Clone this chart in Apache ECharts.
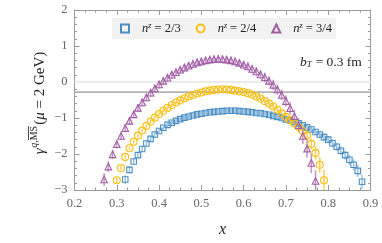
<!DOCTYPE html>
<html><head><meta charset="utf-8">
<script src="https://cdn.jsdelivr.net/npm/echarts@6/dist/echarts.min.js"></script>
<style>html,body{margin:0;padding:0;background:#fff}#c{width:382px;height:243px}</style>
</head><body><div id="c"></div>
<script>
// ---------- data ----------
const xTickLabels = ['0.2','0.3','0.4','0.5','0.6','0.7','0.8','0.9'];
const yTickLabels = ['−3','−2','−1','0','1','2'];

const blueX = [0.32,0.33,0.34,0.35,0.36,0.37,0.38,0.39,0.40,0.41,0.42,0.43,0.44,0.45,0.46,0.47,0.48,0.49,0.50,0.51,0.52,0.53,0.54,0.55,0.56,0.57,0.58,0.59,0.60,0.61,0.62,0.63,0.64,0.65,0.66,0.67,0.68,0.69,0.70,0.71,0.72,0.73,0.74,0.75,0.76,0.77,0.78,0.79,0.80,0.81,0.82,0.83,0.84,0.85,0.86,0.87,0.88];
const blueY = [-2.71,-2.44,-2.21,-2.03,-1.86,-1.71,-1.58,-1.46,-1.36,-1.27,-1.19,-1.13,-1.08,-1.03,-0.99,-0.96,-0.93,-0.90,-0.88,-0.86,-0.84,-0.83,-0.82,-0.81,-0.80,-0.80,-0.80,-0.81,-0.82,-0.83,-0.84,-0.86,-0.87,-0.89,-0.91,-0.94,-0.97,-1.00,-1.04,-1.07,-1.11,-1.15,-1.20,-1.26,-1.32,-1.39,-1.46,-1.53,-1.60,-1.70,-1.80,-1.91,-2.03,-2.16,-2.30,-2.47,-2.77];
const blueErr = [0.12,0.10,0.09,0.08,0.08,0.07,0.07,0.07,0.06,0.06,0.06,0.06,0.06,0.06,0.06,0.06,0.06,0.06,0.06,0.06,0.06,0.06,0.06,0.06,0.06,0.06,0.06,0.06,0.06,0.06,0.06,0.06,0.06,0.06,0.06,0.06,0.06,0.07,0.07,0.07,0.07,0.08,0.08,0.08,0.09,0.09,0.10,0.10,0.10,0.11,0.11,0.12,0.12,0.14,0.15,0.17,0.20];

const orangeX = [0.30,0.31,0.32,0.33,0.34,0.35,0.36,0.37,0.38,0.39,0.40,0.41,0.42,0.43,0.44,0.45,0.46,0.47,0.48,0.49,0.50,0.51,0.52,0.53,0.54,0.55,0.56,0.57,0.58,0.59,0.60,0.61,0.62,0.63,0.64,0.65,0.66,0.67,0.68,0.69,0.70,0.71,0.72,0.73,0.74,0.75,0.76,0.77,0.78,0.79];
const orangeY = [-2.73,-2.39,-2.08,-1.84,-1.66,-1.49,-1.35,-1.22,-1.10,-0.99,-0.89,-0.80,-0.72,-0.64,-0.57,-0.51,-0.45,-0.40,-0.36,-0.32,-0.29,-0.26,-0.24,-0.22,-0.21,-0.20,-0.21,-0.22,-0.24,-0.26,-0.28,-0.31,-0.35,-0.40,-0.46,-0.53,-0.60,-0.68,-0.77,-0.87,-0.97,-1.06,-1.15,-1.25,-1.36,-1.48,-1.72,-1.97,-2.30,-2.73];
const orangeErr = [0.08,0.07,0.06,0.05,0.05,0.05,0.05,0.05,0.05,0.05,0.05,0.05,0.05,0.05,0.05,0.05,0.05,0.05,0.05,0.05,0.05,0.05,0.05,0.05,0.05,0.05,0.05,0.05,0.05,0.05,0.05,0.05,0.05,0.06,0.06,0.06,0.07,0.07,0.07,0.08,0.08,0.09,0.09,0.10,0.11,0.13,0.15,0.18,0.22,0.30];

const purpleX = [0.27,0.28,0.29,0.30,0.31,0.32,0.33,0.34,0.35,0.36,0.37,0.38,0.39,0.40,0.41,0.42,0.43,0.44,0.45,0.46,0.47,0.48,0.49,0.50,0.51,0.52,0.53,0.54,0.55,0.56,0.57,0.58,0.59,0.60,0.61,0.62,0.63,0.64,0.65,0.66,0.67,0.68,0.69,0.70,0.71,0.72,0.73,0.74,0.75,0.76,0.77];
const purpleY = [-2.71,-2.35,-2.01,-1.73,-1.50,-1.28,-1.08,-0.90,-0.72,-0.57,-0.43,-0.30,-0.18,-0.07,0.03,0.12,0.20,0.27,0.34,0.40,0.45,0.50,0.54,0.57,0.60,0.62,0.63,0.64,0.63,0.62,0.60,0.57,0.53,0.48,0.43,0.36,0.29,0.21,0.13,0.03,-0.08,-0.21,-0.36,-0.53,-0.73,-0.95,-1.20,-1.50,-1.85,-2.25,-2.75];
const purpleErr = [0.18,0.15,0.13,0.12,0.12,0.11,0.11,0.11,0.11,0.11,0.11,0.11,0.11,0.11,0.11,0.11,0.11,0.11,0.11,0.11,0.11,0.11,0.11,0.11,0.11,0.11,0.11,0.11,0.11,0.11,0.11,0.11,0.11,0.11,0.11,0.12,0.12,0.12,0.13,0.13,0.14,0.14,0.15,0.16,0.17,0.18,0.20,0.22,0.25,0.28,0.30];

const hLineY = [0, -0.28];
const xRange = [0.2, 0.9];
const legendNames = ['2/3', '2/4', '3/4'];

// ---------- styles ----------
const SERIF = 'Liberation Serif';
const COLORS = ['#4a8fc4', '#fbbf17', '#a25ca6'];
const BAR_COLORS = ['rgba(74,143,196,0.55)', 'rgba(251,191,23,0.75)', 'rgba(162,92,166,0.65)'];
const SYMBOLS = ['rect', 'circle', 'triangle'];
const SIZES = [5.5, 7, 6.5];

function pts(xs, ys) { return xs.map((x, i) => [x, ys[i]]); }
function errPts(xs, ys, es) { return xs.map((x, i) => [x, ys[i] - es[i], ys[i] + es[i]]); }

const sets = [
  [blueX, blueY, blueErr],
  [orangeX, orangeY, orangeErr],
  [purpleX, purpleY, purpleErr]
];

const series = [];
series.push({ type: 'line', name: 'zero', data: xRange.map(x => [x, hLineY[0]]), symbol: 'none',
  lineStyle: { color: '#ebebeb', width: 2 }, silent: true, z: 1 });
series.push({ type: 'line', name: 'ref', data: xRange.map(x => [x, hLineY[1]]), symbol: 'none',
  lineStyle: { color: '#b3b3b3', width: 1.7 }, silent: true, z: 1 });

sets.forEach((s, k) => {
  series.push({
    type: 'custom',
    name: legendNames[k] + '_err',
    data: errPts(s[0], s[1], s[2]),
    clip: true,
    z: 2,
    silent: true,
    renderItem: function (params, api) {
      const a = api.coord([api.value(0), api.value(1)]);
      const b = api.coord([api.value(0), api.value(2)]);
      return { type: 'line', shape: { x1: a[0], y1: a[1], x2: b[0], y2: b[1] },
        style: { stroke: BAR_COLORS[k], lineWidth: 1.5 } };
    }
  });
});
sets.forEach((s, k) => {
  series.push({
    type: 'scatter',
    name: legendNames[k],
    data: pts(s[0], s[1]),
    symbol: SYMBOLS[k],
    symbolSize: SIZES[k],
    clip: true,
    z: 3,
    itemStyle: { color: 'rgba(255,255,255,0)', borderColor: COLORS[k], borderWidth: 1.1, opacity: 1 }
  });
});

const TICK = '#9a9a9a';
function axisCommon(extra) {
  return Object.assign({
    type: 'value',
    axisLine: { show: true, onZero: false, lineStyle: { color: TICK, width: 1 } },
    axisTick: { show: true, inside: true, length: 5, lineStyle: { color: TICK } },
    splitLine: { show: false },
    minorSplitLine: { show: false }
  }, extra);
}

const mctx = document.createElement('canvas').getContext('2d');
function tw(t, font) { mctx.font = font; return mctx.measureText(t).width; }

function mathGroup(parts) {
  let x = 0;
  const children = [];
  parts.forEach(p => {
    const font = (p.italic ? 'italic ' : '') + p.size + 'px ' + SERIF;
    const w = tw(p.t, font);
    children.push({ type: 'text', x: x, y: p.dy || 0,
      style: { text: p.t, fontSize: p.size, fontFamily: SERIF, fontStyle: p.italic ? 'italic' : 'normal',
        fill: '#222', align: 'left', verticalAlign: 'middle' } });
    if (p.overline) {
      const yy = (p.dy || 0) - p.size * 0.55;
      children.push({ type: 'line', shape: { x1: x + 0.3, y1: yy, x2: x + w - 0.3, y2: yy },
        style: { stroke: '#222', lineWidth: 0.8 } });
    }
    x += w + (p.gap || 0);
  });
  return { children, width: x };
}

const yLab = mathGroup([
  { t: 'γ', size: 15, italic: true, gap: 0.5 },
  { t: 'q,', size: 10, italic: true, dy: -6 },
  { t: 'MS', size: 10, dy: -6, overline: true, gap: 1 },
  { t: '(', size: 15 },
  { t: 'μ', size: 15, italic: true },
  { t: ' = 2 GeV)', size: 15 }
]);
yLab.children.forEach(c => { if (c.type === 'text') c.x -= yLab.width / 2; else { c.shape.x1 -= yLab.width / 2; c.shape.x2 -= yLab.width / 2; } });

const bLab = mathGroup([
  { t: 'b', size: 13.5, italic: true },
  { t: 'T', size: 9, italic: true, dy: 3, gap: 0.5 },
  { t: ' = 0.3 fm', size: 13.5 }
]);

const chart = echarts.init(document.getElementById('c'), null, { renderer: 'canvas' });
chart.setOption({
  animation: false,
  backgroundColor: '#fff',
  textStyle: { fontFamily: SERIF },
  grid: { left: 74.5, right: 11.5, top: 10, bottom: 49, containLabel: false },
  legend: {
    show: true,
    data: legendNames,
    left: 112, top: 18,
    padding: [4, 4, 4, 8],
    backgroundColor: '#f2f2f2',
    itemWidth: 8, itemHeight: 8,
    itemGap: 15,
    selectedMode: false,
    formatter: function (name) { return '{n|n}{s|z}{r| = ' + name + '}'; },
    textStyle: {
      fontFamily: SERIF,
      rich: {
        n: { fontFamily: SERIF, fontStyle: 'italic', fontSize: 12.5, color: '#222', padding: [0, 0, 0, 8] },
        s: { fontFamily: SERIF, fontStyle: 'italic', fontSize: 8, color: '#222', verticalAlign: 'top', padding: [0, 0, 4, 0] },
        r: { fontFamily: SERIF, fontSize: 12.5, color: '#222' }
      }
    }
  },
  xAxis: [
    axisCommon({ min: xRange[0], max: xRange[1], interval: 0.1, position: 'bottom',
      minorTick: { show: true, splitNumber: 4, length: 2.5, lineStyle: { color: TICK } },
      axisLabel: { show: true, margin: 7, fontFamily: SERIF, fontSize: 12.5, color: '#666',
        formatter: function (v) { return xTickLabels[Math.round((v - 0.2) * 10)]; } },
      name: 'x', nameLocation: 'middle', nameGap: 32,
      nameTextStyle: { fontFamily: SERIF, fontStyle: 'italic', fontSize: 16, color: '#222' } }),
    axisCommon({ min: xRange[0], max: xRange[1], interval: 0.1, position: 'top',
      minorTick: { show: true, splitNumber: 4, length: 2.5, lineStyle: { color: TICK } },
      axisLabel: { show: false } })
  ],
  yAxis: [
    axisCommon({ min: -3, max: 2, interval: 1, position: 'left',
      minorTick: { show: true, splitNumber: 5, length: 2.5, lineStyle: { color: TICK } },
      axisLabel: { show: true, margin: 7, fontFamily: SERIF, fontSize: 12.5, color: '#666',
        formatter: function (v) { return yTickLabels[Math.round(v + 3)]; } } }),
    axisCommon({ min: -3, max: 2, interval: 1, position: 'right',
      minorTick: { show: true, splitNumber: 5, length: 2.5, lineStyle: { color: TICK } },
      axisLabel: { show: false } })
  ],
  graphic: [
    { type: 'group', x: 40, y: 103, rotation: Math.PI / 2, children: yLab.children },
    { type: 'group', x: 300, y: 62, children: bLab.children }
  ],
  series: series
});
</script>
</body></html>
